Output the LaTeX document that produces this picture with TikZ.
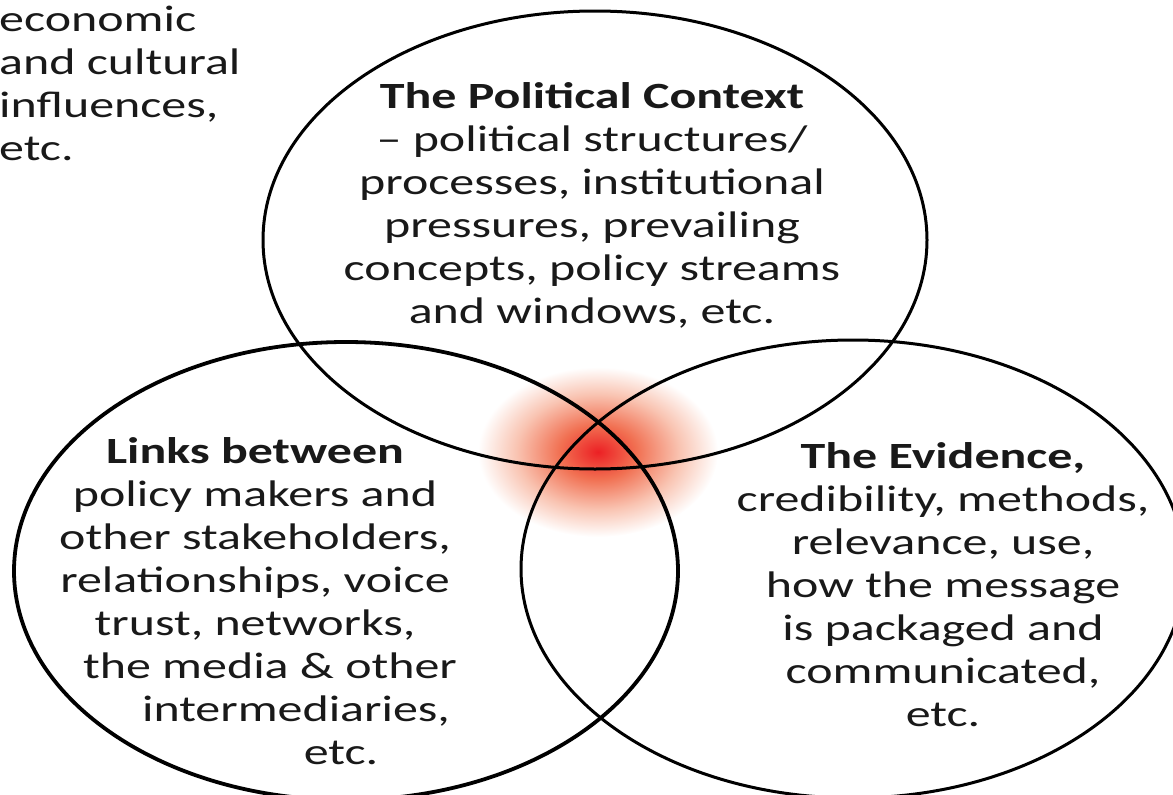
\documentclass[tikz,border=0pt]{standalone}
\usepackage{fontspec}
\setmainfont{Carlito}[FakeStretch=1.35]
\definecolor{glowred}{RGB}{236,32,36}
\definecolor{gloworange}{RGB}{241,112,82}
\definecolor{glowpeach}{RGB}{249,196,178}
\pgfdeclareradialshading{glow}{\pgfpoint{0bp}{0bp}}{color(0bp)=(glowred); color(8bp)=(gloworange); color(17bp)=(glowpeach); color(25bp)=(white); color(50bp)=(white)}
\tikzset{
	ring/.style={line width=3pt},
	label/.style={align=center, anchor=base, inner sep=0pt, text=black!90}
}
\begin{document}
\begin{tikzpicture}[x=1pt, y=-1pt, line join=round, line cap=round, font=\fontsize{37}{43}\selectfont]
	\useasboundingbox (0,0) rectangle (1173,795);
	\shade[shading=glow] (598,452) ellipse [x radius=120pt, y radius=85pt];
	\draw[ring] (595,240) ellipse [x radius=332pt, y radius=229pt];
	\draw[ring, line width=3.8pt] (346,571) ellipse [x radius=332pt, y radius=229pt];
	\draw[ring] (853,569) ellipse [x radius=332pt, y radius=229pt];
	% base anchor sits on the last line
	\node[label, anchor=base west, align=left] (external) at (-1,160) {economic\\ and cultural\\ influences,\\ etc.};
	\node[label] (context) at (592,323) {\textbf{The Political Context}\\ -- political structures/\\ processes, institutional\\ pressures, prevailing\\ concepts, policy streams\\ and windows, etc.};
	\node[label] (links) at (255,764) {\textbf{Links between}\\ policy makers and\\ other stakeholders,\\ relationships, voice\\ trust, networks,\\ \hspace*{30pt}the media \& other\\ \hspace*{82pt}intermediaries,\\ \hspace*{172pt}etc.};
	\node[label] (evidence) at (943,726) {\textbf{The Evidence,}\\ credibility, methods,\\ relevance, use,\\ how the message\\ is packaged and\\ communicated,\\ etc.};
\end{tikzpicture}
\end{document}
